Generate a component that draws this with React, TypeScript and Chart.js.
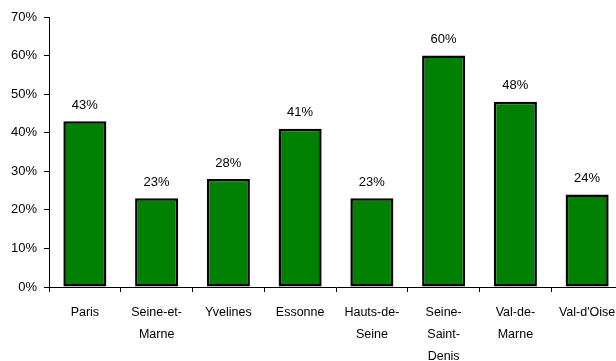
import React, { useEffect, useRef } from "react";
import { Chart, registerables } from "chart.js";

Chart.register(...registerables);

const categories: string[][] = [
  ["Paris"],
  ["Seine-et-", "Marne"],
  ["Yvelines"],
  ["Essonne"],
  ["Hauts-de-", "Seine"],
  ["Seine-", "Saint-", "Denis"],
  ["Val-de-", "Marne"],
  ["Val-d'Oise"],
];
const values: number[] = [43, 23, 28, 41, 23, 60, 48, 24];
const yTicks: number[] = [0, 10, 20, 30, 40, 50, 60, 70];

const FONT = "'Liberation Sans', Arial, sans-serif";

const labelPlugin = {
  id: "barLabels",
  afterDatasetsDraw(chart: any) {
    const ctx = chart.ctx;
    const meta = chart.getDatasetMeta(0);
    ctx.save();
    ctx.font = `13px ${FONT}`;
    ctx.fillStyle = "#000";
    ctx.textAlign = "center";
    ctx.textBaseline = "middle";
    meta.data.forEach((bar: any, i: number) => {
      ctx.fillText(values[i] + "%", bar.x, bar.y - 16);
    });
    ctx.restore();
  },
};

export default function App() {
  const ref = useRef<HTMLCanvasElement>(null);
  useEffect(() => {
    document.body.style.margin = "0";
    const chart = new Chart(ref.current!, {
      type: "bar",
      data: {
        labels: categories,
        datasets: [
          {
            data: values,
            backgroundColor: "#008000",
            borderColor: "#000",
            borderWidth: 2.5,
            borderSkipped: false,
            categoryPercentage: 1,
            barPercentage: 0.6,
          },
        ],
      },
      options: {
        animation: false,
        responsive: false,
        layout: { padding: { top: 17, right: 7, left: 0, bottom: 0 } },
        plugins: { legend: { display: false }, tooltip: { enabled: false } },
        scales: {
          x: {
            offset: true,
            grid: {
              offset: true,
              drawOnChartArea: false,
              drawTicks: true,
              tickLength: 5,
              color: "#000",
            },
            border: { display: true, color: "#000", width: 1 },
            ticks: {
              color: "#000",
              font: { family: FONT, size: 12.5, lineHeight: 22 / 12.5 },
              padding: 10,
              maxRotation: 0,
              autoSkip: false,
            },
            afterFit(scale: any) {
              scale.height = 74;
            },
          },
          y: {
            min: 0,
            max: 70,
            afterBuildTicks(scale: any) {
              scale.ticks = yTicks.map((v) => ({ value: v }));
            },
            grid: {
              drawOnChartArea: false,
              drawTicks: true,
              tickLength: 5,
              color: "#000",
            },
            border: { display: true, color: "#000", width: 1 },
            ticks: {
              color: "#000",
              font: { family: FONT, size: 13 },
              padding: 7,
              callback: (v: any) => v + "%",
            },
            afterFit(scale: any) {
              scale.width = 49;
            },
          },
        },
      },
      plugins: [labelPlugin],
    });
    return () => chart.destroy();
  }, []);
  return (
    <div style={{ width: 616, height: 361, overflow: "hidden", position: "relative" }}>
      <canvas ref={ref} width={630} height={361} style={{ display: "block" }} />
    </div>
  );
}
